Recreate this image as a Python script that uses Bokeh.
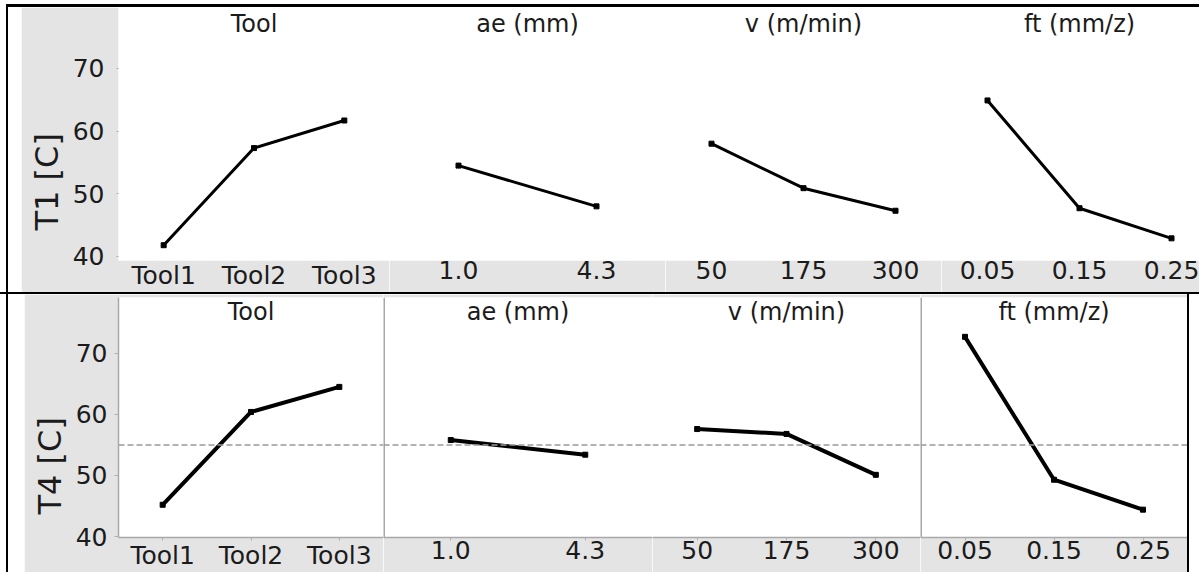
from bokeh.plotting import figure
from bokeh.layouts import row, column
from bokeh.models import Range1d, FixedTicker, Span, Label, Spacer, Title
from bokeh.embed import file_html
from bokeh.resources import INLINE

# ---------------- data ----------------
factor_names = ["Tool", "ae (mm)", "v (m/min)", "ft (mm/z)"]
tool_levels = ["Tool1", "Tool2", "Tool3"]
ae_levels = ["1.0", "4.3"]
v_levels = ["50", "175", "300"]
ft_levels = ["0.05", "0.15", "0.25"]

t1_tool = [41.8, 57.3, 61.7]
t1_ae = [54.5, 48.0]
t1_v = [58.0, 50.9, 47.3]
t1_ft = [64.9, 47.7, 42.9]

t4_tool = [45.2, 60.4, 64.5]
t4_ae = [55.8, 53.4]
t4_v = [57.6, 56.8, 50.1]
t4_ft = [72.7, 49.3, 44.4]
t4_grand_mean = 55.0

y_ticks = [40, 50, 60, 70]
row_labels = ["T1 [C]", "T4 [C]"]

# ---------------- styling ----------------
FONT = "DejaVu Sans"
GRAY = "#e4e4e4"
TXT = "#1b1b1b"

TOP_H = 285
BOT_H = 278


def make_panel(levels, means, title, frame_w, top_row, first=False,
               ylabel=None, x_end=None, mean_line=None, sep=False):
    n = len(levels)
    xs = list(range(1, n + 1))
    left = 94 if top_row else 91
    height = TOP_H if top_row else BOT_H
    yr = (39.36, 79.73) if top_row else (39.84, 79.14)
    p = figure(width=frame_w + (left if first else 0), height=height,
               x_range=Range1d(0.5, x_end if x_end else n + 0.5),
               y_range=Range1d(*yr),
               output_backend="svg", toolbar_location=None, tools="",
               y_axis_location="left" if first else None,
               min_border_left=left if first else 0, min_border_right=0,
               min_border_top=0 if top_row else 3,
               min_border_bottom=32 if top_row else 34)
    p.background_fill_color = "white"
    p.border_fill_color = GRAY
    p.outline_line_color = None
    p.xgrid.visible = False
    p.ygrid.visible = False

    xa = p.xaxis[0]
    xa.ticker = FixedTicker(ticks=xs)
    xa.major_label_overrides = {x: lab for x, lab in zip(xs, levels)}
    xa.minor_tick_line_color = None
    xa.major_label_text_font = FONT
    xa.major_label_text_font_size = "25px"
    xa.major_label_text_color = TXT
    xa.major_tick_in = 0
    xa.major_label_standoff = 0
    if top_row:
        xa.axis_line_color = None
        xa.major_tick_line_color = None
        xa.major_tick_out = 0
    else:
        xa.axis_line_color = "#a8a8a8"
        xa.axis_line_width = 1.5
        xa.major_tick_line_color = "#b0b0b0"
        xa.major_tick_out = 3

    if first:
        ya = p.yaxis[0]
        ya.ticker = FixedTicker(ticks=y_ticks)
        ya.minor_tick_line_color = None
        ya.major_label_text_font = FONT
        ya.major_label_text_font_size = "25px"
        ya.major_label_text_color = TXT
        ya.major_tick_in = 0
        ya.major_tick_out = 2 if top_row else 4
        ya.major_tick_line_color = "#b0b0b0"
        ya.major_label_standoff = 12 if top_row else 7
        ya.axis_line_color = None if top_row else "#a8a8a8"
        ya.axis_line_width = 1.5
        p.add_layout(Title(text=ylabel, align="left",
                           offset=30 if top_row else 23,
                           text_font=FONT, text_font_size="32px",
                           text_font_style="normal", text_color=TXT,
                           standoff=8), "left")

    if sep:
        p.add_layout(Span(location=0.5, dimension="height",
                          line_color="#a8a8a8", line_width=3))
    if mean_line is not None:
        p.add_layout(Span(location=mean_line, dimension="width",
                          line_color="#9a9a9a", line_width=1.5,
                          line_dash="6 3"))

    lw = 3 if top_row else 4
    p.line(xs, means, line_color="black", line_width=lw)
    p.scatter(xs, means, marker="square", size=5, color="black")

    p.add_layout(Label(x=(n + 1) / 2, y=237 if top_row else 226,
                       x_units="data", y_units="screen", text=title,
                       text_font=FONT, text_font_size="24px",
                       text_color=TXT, text_align="center",
                       text_baseline="middle"))
    return p


def bar(w, h, color):
    return Spacer(width=w, height=h, styles={"background-color": color})


def gap(w, h):
    return Spacer(width=w, height=h)


# top row (T1)
p1 = make_panel(tool_levels, t1_tool, factor_names[0], 274, True, first=True,
                ylabel=row_labels[0])
p2 = make_panel(ae_levels, t1_ae, factor_names[1], 276, True)
p3 = make_panel(v_levels, t1_v, factor_names[2], 276, True)
p4 = make_panel(ft_levels, t1_ft, factor_names[3], 258, True,
                x_end=0.5 + 258 / 92.0)

# bottom row (T4)
q1 = make_panel(tool_levels, t4_tool, factor_names[0], 268, False, first=True,
                ylabel=row_labels[1], mean_line=t4_grand_mean)
q2 = make_panel(ae_levels, t4_ae, factor_names[1], 269, False,
                mean_line=t4_grand_mean, sep=True)
q3 = make_panel(v_levels, t4_v, factor_names[2], 268, False,
                mean_line=t4_grand_mean)
q4 = make_panel(ft_levels, t4_ft, factor_names[3], 267, False,
                mean_line=t4_grand_mean, sep=True)

top_line = row(gap(6, 3), bar(1193, 3, "black"))
top = row(gap(6, TOP_H), bar(2, TOP_H, "black"), gap(13, TOP_H),
          p1, p2, p3, p4)
mid_line = bar(1199, 2, "black")
bottom = row(gap(6, BOT_H), bar(2, BOT_H, "black"), gap(16, BOT_H),
             q1, q2, q3, q4, bar(2, BOT_H, "black"))

layout = column(gap(1199, 4), top_line, top, mid_line, bottom)

with open("out.html", "w") as f:
    f.write(file_html(layout, INLINE))
